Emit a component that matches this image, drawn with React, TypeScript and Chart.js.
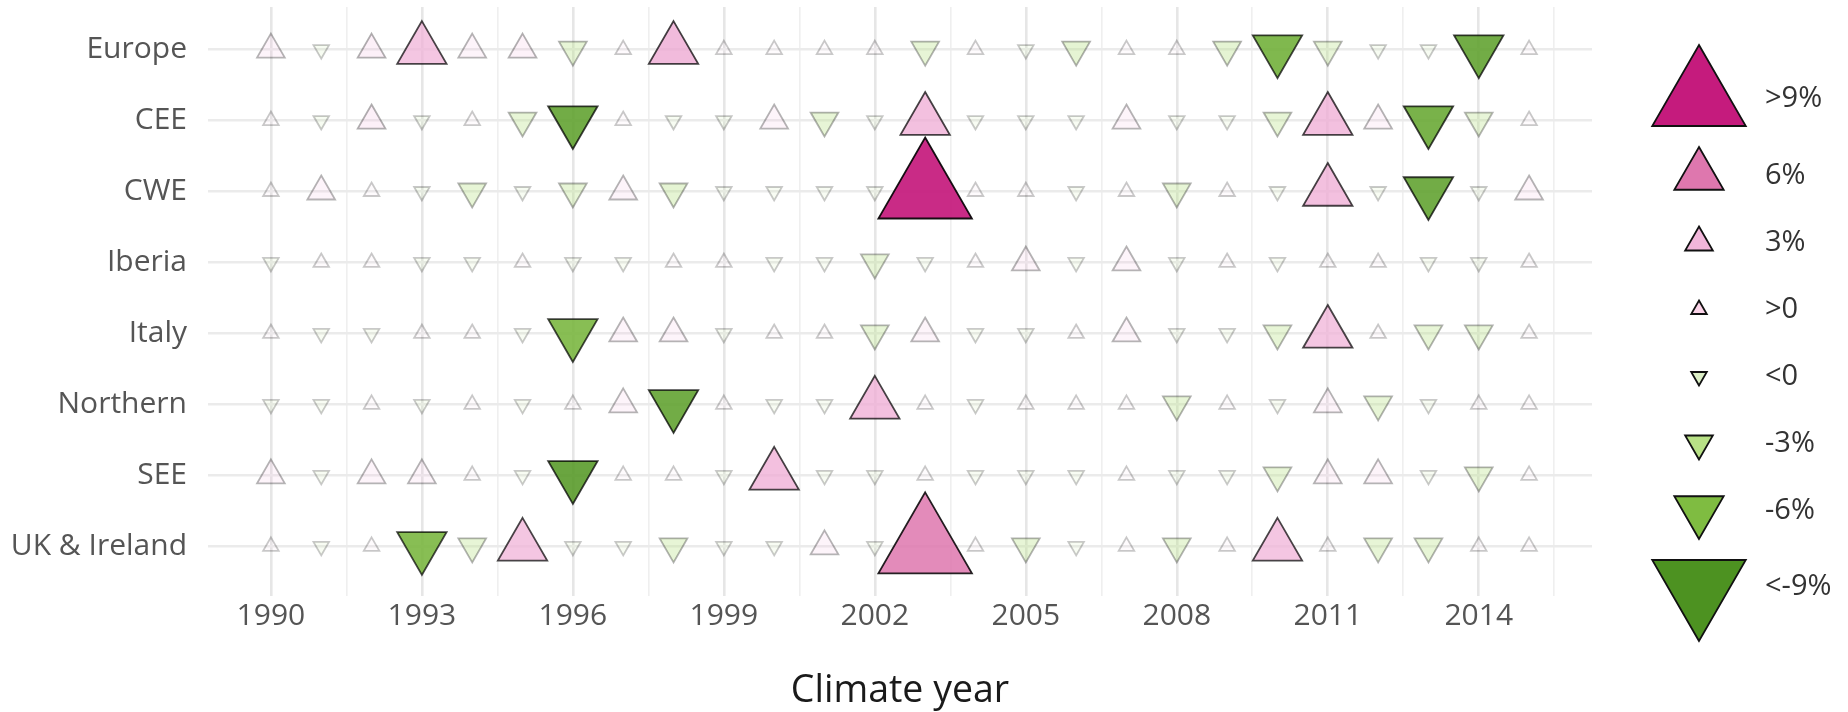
import React, { useEffect, useRef } from 'react';
import { Chart, registerables } from 'chart.js';

Chart.register(...registerables);

// ---------- data ----------
const regions = ['Europe', 'CEE', 'CWE', 'Iberia', 'Italy', 'Northern', 'SEE', 'UK & Ireland'];

const years = [
  1990, 1991, 1992, 1993, 1994, 1995, 1996, 1997, 1998, 1999, 2000, 2001, 2002,
  2003, 2004, 2005, 2006, 2007, 2008, 2009, 2010, 2011, 2012, 2013, 2014, 2015,
];

const majorYearTicks = [1990, 1993, 1996, 1999, 2002, 2005, 2008, 2011, 2014];
const minorYearTicks = [1991.5, 1994.5, 1997.5, 2000.5, 2003.5, 2006.5, 2009.5, 2012.5, 2015.5];

// deviation (%) per climate year, 1990..2015
const europe = [3.5, -1.5, 4.5, 6.5, 3.5, 4, -4, 1.5, 7.5, 1, 1, 1, 1, -4, 1, -1.5, -4.5, 1, 1, -4.5, -7, -3.5, -1.5, -1.5, -8, 1];
const cee = [1, -1.5, 4.5, -1.5, 1, -4, -8, 1, -1.5, -1.5, 3.5, -4, -1, 7, -1, -1, -1, 3.5, -1, -1, -4, 7, 3.5, -7.5, -3.5, 1];
const cwe = [1, 3.5, 1, -1.5, -4, -1.5, -4, 3.5, -4.5, -1, -1, -1, -1, 12, 1, 1, -1, 1, -4, 1, -1, 7, -1, -8, -1, 3.5];
const iberia = [-1, 1, 1, -1, -1, 1, -1, -1, 1, 1, -1, -1, -3.5, -1, 1, 3.5, -1, 3.5, -1, 1, -1, 1, 1, -1, -1, 1];
const italy = [1, -1, -1, 1, 1, -1, -6.5, 3.5, 3.5, -1, 1, 1, -4, 3.5, -1, -1, 1, 3.5, -1, -1, -4, 6.5, 1, -4, -4, 1];
const northern = [-1, -1, 1, -1, 1, -1, 1, 3.5, -8, 1, -1, -1, 7, 1, -1, 1, 1, 1, -4, 1, -1, 3.5, -4, -1, 1, 1];
const see = [3.5, -1, 3.5, 3.5, 1, -1, -8.5, 1, 1, -1, 7, -1, -1, 1, -1, -1, -1, 1, -1, -1, -4, 3.5, 3.5, -1, -4, 1];
const ukIreland = [1, -1, 1, -6.5, -4, 6.5, -1, -1, -4, -1, -1, 3.5, -1, 9, 1, -4, -1, 1, -4, 1, 6.5, 1, -4, -4, 1, 1];

const seriesByRegion = [europe, cee, cwe, iberia, italy, northern, see, ukIreland];

const legendLabels = ['>9%', '6%', '3%', '>0', '<0', '-3%', '-6%', '<-9%'];
const legendValues = [10, 7, 4, 1, -1, -4, -7, -10];
const legendPalette = ['#c51b7d', '#de77ae', '#f1b6da', '#fbd3e8', '#dcefc6', '#b8e186', '#7fbc41', '#4d9221'];

// ---------- styling helpers ----------
type Stop = { v: number; c: number[]; a: number };

const upStops: Stop[] = [
  { v: 0, c: [241, 182, 218], a: 0.05 },
  { v: 2.99, c: [241, 182, 218], a: 0.08 },
  { v: 3, c: [241, 182, 218], a: 0.12 },
  { v: 5.99, c: [241, 182, 218], a: 0.28 },
  { v: 6, c: [241, 182, 218], a: 0.72 },
  { v: 8.99, c: [234, 150, 200], a: 0.8 },
  { v: 9, c: [222, 119, 174], a: 0.85 },
  { v: 12, c: [197, 27, 125], a: 0.93 },
];
const downStops: Stop[] = [
  { v: 0, c: [184, 225, 134], a: 0.08 },
  { v: 2.99, c: [184, 225, 134], a: 0.14 },
  { v: 3, c: [184, 225, 134], a: 0.3 },
  { v: 5.99, c: [184, 225, 134], a: 0.42 },
  { v: 6, c: [127, 188, 65], a: 0.88 },
  { v: 8.99, c: [77, 146, 33], a: 0.88 },
  { v: 9, c: [77, 146, 33], a: 0.9 },
  { v: 12, c: [39, 100, 25], a: 0.95 },
];
const strokeStops: Stop[] = [
  { v: 0, c: [0, 0, 0], a: 0.2 },
  { v: 2.99, c: [0, 0, 0], a: 0.24 },
  { v: 3, c: [0, 0, 0], a: 0.28 },
  { v: 5.99, c: [0, 0, 0], a: 0.34 },
  { v: 6, c: [0, 0, 0], a: 0.7 },
  { v: 8.99, c: [0, 0, 0], a: 0.76 },
  { v: 9, c: [0, 0, 0], a: 0.85 },
  { v: 12, c: [0, 0, 0], a: 0.9 },
];

function interp(stops: Stop[], value: number): string {
  const a = Math.min(Math.abs(value), stops[stops.length - 1].v);
  let i = 0;
  while (i < stops.length - 2 && a > stops[i + 1].v) i++;
  const s0 = stops[i];
  const s1 = stops[i + 1];
  const t = s1.v === s0.v ? 0 : Math.max(0, Math.min(1, (a - s0.v) / (s1.v - s0.v)));
  const c = s0.c.map((x, k) => Math.round(x + (s1.c[k] - x) * t));
  const al = s0.a + (s1.a - s0.a) * t;
  return `rgba(${c[0]},${c[1]},${c[2]},${al.toFixed(3)})`;
}

function radiusFor(v: number): number {
  const a = Math.abs(v);
  if (a >= 9) return 54;
  if (a >= 6) return 28.5;
  if (a >= 3) return 16;
  return 9;
}

function fillFor(v: number): string {
  return v >= 0 ? interp(upStops, v) : interp(downStops, v);
}

function strokeFor(v: number): string {
  return interp(strokeStops, v);
}

function drawTriangle(
  ctx: CanvasRenderingContext2D,
  x: number,
  y: number,
  r: number,
  down: boolean,
  fill: string,
  stroke: string,
  lw: number
) {
  let rad = down ? Math.PI : 0;
  ctx.beginPath();
  for (let k = 0; k < 3; k++) {
    const px = x + Math.sin(rad) * r;
    const py = y - Math.cos(rad) * r;
    if (k === 0) ctx.moveTo(px, py);
    else ctx.lineTo(px, py);
    rad += (2 * Math.PI) / 3;
  }
  ctx.closePath();
  ctx.fillStyle = fill;
  ctx.fill();
  ctx.lineWidth = lw;
  ctx.strokeStyle = stroke;
  ctx.lineJoin = 'miter';
  ctx.stroke();
}

const FONT = "'Open Sans', 'Noto Sans', sans-serif";

const legendPlugin = {
  id: 'triangleLegend',
  afterDraw(chart: any) {
    const ctx: CanvasRenderingContext2D = chart.ctx;
    const area = chart.chartArea;
    const cx = area.right + 107;
    const textX = area.right + 173;
    let y = 56;
    ctx.save();
    legendValues.forEach((v, i) => {
      const r = radiusFor(v);
      const h = Math.max(67, 1.5 * r + 5);
      const cy = y + h / 2;
      drawTriangle(ctx, cx, cy, r, v < 0, legendPalette[i], '#111', 1.8);
      ctx.fillStyle = '#333';
      ctx.font = `29px ${FONT}`;
      ctx.textAlign = 'left';
      ctx.textBaseline = 'middle';
      ctx.fillText(legendLabels[i], textX, cy);
      y += h;
    });
    ctx.restore();
  },
};

export default function App() {
  const canvasRef = useRef<HTMLCanvasElement | null>(null);

  useEffect(() => {
    if (!canvasRef.current) return;
    Chart.defaults.font.family = FONT;

    const datasets = regions.map((name, ri) => ({
      label: name,
      data: years.map((yr, yi) => ({ x: yr, y: ri, v: seriesByRegion[ri][yi] })),
      showLine: false,
      pointStyle: 'triangle',
      pointRadius: (c: any) => radiusFor(c.raw.v),
      pointHoverRadius: (c: any) => radiusFor(c.raw.v),
      pointRotation: (c: any) => (c.raw.v < 0 ? 180 : 0),
      pointBackgroundColor: (c: any) => fillFor(c.raw.v),
      pointBorderColor: (c: any) => strokeFor(c.raw.v),
      pointBorderWidth: 1.8,
      clip: false,
    }));

    const allXTicks = [...majorYearTicks, ...minorYearTicks].sort((a, b) => a - b);

    const chart = new Chart(canvasRef.current, {
      type: 'scatter',
      data: { datasets },
      options: {
        animation: false,
        responsive: false,
        events: [],
        layout: { autoPadding: false, padding: { left: 0, top: 7, right: 256, bottom: 0 } },
        plugins: { legend: { display: false }, tooltip: { enabled: false } },
        scales: {
          x: {
            type: 'linear',
            min: 1988.75,
            max: 2016.25,
            afterBuildTicks: (scale: any) => {
              scale.ticks = allXTicks.map((v) => ({ value: v }));
            },
            afterFit: (scale: any) => {
              scale.height = 116;
              scale.paddingLeft = 0;
              scale.paddingRight = 0;
            },
            ticks: {
              autoSkip: false,
              maxRotation: 0,
              padding: 2,
              color: '#555',
              font: { size: 30 },
              callback: (v: any) => (majorYearTicks.includes(Number(v)) ? String(v) : ''),
            },
            grid: {
              drawTicks: false,
              color: (c: any) => (c.tick && majorYearTicks.includes(c.tick.value) ? '#e6e6e6' : '#efefef'),
              lineWidth: (c: any) => (c.tick && majorYearTicks.includes(c.tick.value) ? 2.6 : 1.6),
            },
            border: { display: false },
            title: {
              display: true,
              text: 'Climate year',
              color: '#1a1a1a',
              font: { size: 37.5, lineHeight: 1 },
              padding: { top: 0, bottom: 2 },
            },
          },
          y: {
            type: 'linear',
            reverse: true,
            min: -0.6,
            max: 7.7,
            afterBuildTicks: (scale: any) => {
              scale.ticks = regions.map((_, i) => ({ value: i }));
            },
            afterFit: (scale: any) => {
              scale.width = 208;
              scale.paddingTop = 0;
              scale.paddingBottom = 0;
            },
            ticks: {
              autoSkip: false,
              padding: 21,
              color: '#555',
              font: { size: 30 },
              callback: (v: any) => regions[Number(v)] ?? '',
            },
            grid: { drawTicks: false, color: '#ebebeb', lineWidth: 2.6 },
            border: { display: false },
          },
        },
      },
      plugins: [legendPlugin],
    } as any);

    return () => chart.destroy();
  }, []);

  return (
    <div
      style={{
        position: 'absolute',
        left: 0,
        top: 0,
        width: 1848,
        height: 712,
        background: '#ffffff',
        overflow: 'hidden',
      }}
    >
      <canvas ref={canvasRef} width={1848} height={712} />
    </div>
  );
}
